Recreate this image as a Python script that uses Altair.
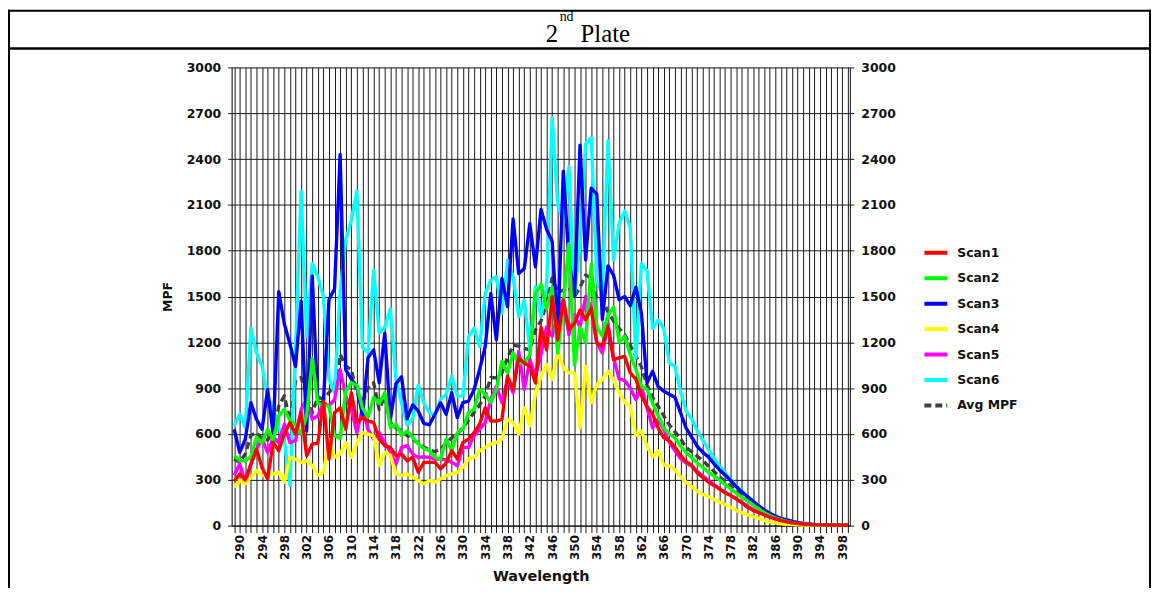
import altair as alt
import pandas as pd

wavelengths = list(range(289, 400))

scan1 = [290, 338, 300, 400, 500, 380, 306, 544, 490, 600,
         675, 600, 740, 458, 534, 540, 815, 436, 740, 772,
         631, 870, 675, 707, 685, 675, 566, 523, 512, 458,
         468, 425, 447, 349, 414, 414, 414, 371, 410, 490,
         436, 544, 566, 609, 664, 772, 685, 685, 696, 978,
         891, 1098, 1065, 1043, 935, 1300, 1150, 1499, 1217, 1477,
         1282, 1325, 1412, 1347, 1423, 1195, 1173, 1304, 1087, 1098,
         1108, 1000, 960, 850, 780, 730, 640, 575, 555, 515,
         460, 420, 395, 345, 315, 285, 262, 240, 215, 198,
         175, 150, 120, 100, 85, 72, 57, 44, 33, 25,
         18, 14, 10, 8, 6, 5, 4, 3, 3, 2,
         2]

scan2 = [458, 425, 425, 450, 580, 540, 631, 560, 720, 760,
         690, 660, 600, 720, 1095, 800, 790, 780, 590, 570,
         880, 937, 918, 770, 710, 840, 800, 870, 640, 664,
         590, 620, 577, 534, 505, 490, 447, 436, 566, 490,
         609, 631, 740, 761, 891, 859, 805, 891, 1076, 1000,
         1130, 1065, 1065, 1119, 1520, 1580, 1420, 1560, 1130, 1450,
         1846, 1050, 1300, 1200, 1710, 1300, 1240, 1380, 1430, 1200,
         1240, 1120, 1022, 913, 891, 800, 720, 640, 600, 575,
         520, 480, 445, 410, 380, 350, 325, 300, 270, 240,
         212, 185, 160, 135, 110, 85, 66, 50, 38, 28,
         20, 14, 10, 7, 5, 4, 3, 3, 2, 2,
         2]

scan3 = [631, 479, 566, 805, 696, 631, 891, 600, 1531, 1320,
         1190, 1043, 1470, 620, 1635, 800, 810, 1480, 1550, 2430,
         1020, 960, 910, 720, 1100, 1150, 935, 1260, 696, 930,
         975, 700, 790, 750, 670, 660, 730, 805, 729, 870,
         707, 805, 815, 891, 1022, 1173, 1520, 1217, 1618, 1434,
         2008, 1650, 1683, 1976, 1694, 2070, 1940, 1860, 1260, 2320,
         1740, 1500, 2490, 1740, 2210, 2170, 1350, 1700, 1640, 1480,
         1500, 1440, 1560, 1390, 935, 1010, 910, 880, 860, 840,
         740, 640, 580, 520, 480, 450, 405, 365, 330, 295,
         255, 220, 190, 160, 130, 103, 80, 62, 48, 38,
         28, 20, 14, 10, 7, 5, 4, 3, 3, 2,
         2]

scan4 = [252, 295, 273, 317, 360, 328, 338, 338, 349, 284,
         447, 436, 414, 425, 393, 328, 349, 566, 447, 468,
         544, 447, 544, 609, 599, 588, 393, 479, 460, 338,
         328, 338, 317, 295, 273, 295, 284, 306, 328, 338,
         349, 382, 436, 447, 490, 512, 534, 544, 566, 696,
         675, 599, 772, 653, 860, 980, 1054, 957, 1140, 1032,
         1000, 1000, 640, 1043, 805, 924, 957, 1011, 957, 870,
         805, 783, 590, 620, 520, 450, 490, 395, 390, 365,
         320, 284, 255, 225, 205, 190, 172, 155, 138, 120,
         100, 85, 72, 60, 48, 36, 26, 18, 13, 9,
         7, 5, 4, 3, 3, 2, 2, 2, 1, 1,
         1]

scan5 = [328, 403, 284, 403, 501, 566, 479, 577, 544, 664,
         544, 555, 761, 826, 696, 718, 805, 783, 826, 1022,
         848, 761, 609, 772, 631, 566, 609, 544, 480, 403,
         512, 523, 468, 447, 450, 447, 436, 436, 430, 414,
         392, 512, 512, 588, 631, 675, 826, 913, 805, 957,
         870, 1141, 891, 1087, 978, 1120, 1300, 1240, 1390, 1480,
         1250, 1380, 1300, 1500, 1430, 1200, 1130, 1320, 1100, 960,
         950, 900, 826, 913, 772, 640, 696, 631, 544, 490,
         440, 410, 390, 355, 325, 295, 268, 242, 218, 196,
         175, 152, 128, 106, 88, 72, 57, 44, 33, 25,
         18, 13, 10, 7, 5, 4, 3, 3, 2, 2,
         2]

scan6 = [653, 729, 640, 1293, 1130, 1043, 848, 760, 640, 560,
         265, 1150, 2190, 1240, 1716, 1630, 1500, 960, 870, 1540,
         1870, 2000, 2190, 1170, 1130, 1670, 1260, 1300, 1420, 960,
         800, 660, 700, 920, 800, 740, 720, 826, 860, 978,
         848, 848, 1238, 1293, 1173, 1520, 1607, 1629, 1390, 1737,
         1629, 1369, 1477, 1152, 1564, 1369, 1560, 2670, 2100, 1990,
         2350, 1500, 1850, 2500, 2540, 1600, 1520, 2520, 1740, 1980,
         2060, 1950, 1100, 1716, 1670, 1290, 1347, 1290, 1065, 1043,
         880, 750, 700, 620, 560, 500, 440, 390, 345, 300,
         260, 225, 190, 160, 130, 103, 80, 60, 46, 36,
         27, 20, 14, 10, 7, 5, 4, 3, 3, 2,
         2]

avg_mpf = [436, 414, 470, 590, 610, 566, 560, 610, 783, 850,
           690, 950, 970, 850, 740, 840, 830, 870, 920, 1120,
           1043, 1022, 870, 805, 902, 935, 760, 848, 675, 640,
           620, 590, 566, 540, 515, 495, 485, 500, 540, 575,
           600, 640, 690, 740, 790, 850, 970, 967, 1000, 1100,
           1180, 1175, 1160, 1150, 1280, 1340, 1450, 1620, 1530, 1540,
           1560, 1500, 1560, 1640, 1620, 1480, 1480, 1400, 1340, 1290,
           1250, 1180, 1110, 1040, 920, 840, 780, 720, 660, 615,
           570, 510, 485, 455, 425, 390, 355, 320, 290, 260,
           228, 198, 170, 142, 118, 96, 76, 58, 44, 33,
           24, 17, 12, 9, 6, 5, 4, 3, 3, 2,
           2]

series_names = ["Scan1", "Scan2", "Scan3", "Scan4", "Scan5", "Scan6", "Avg MPF"]
series_colors = ["#FF0000", "#00FF00", "#0000FF", "#FFFF00", "#FF00FF", "#00FFFF", "#404040"]
series_dashes = [[1, 0], [1, 0], [1, 0], [1, 0], [1, 0], [1, 0], [7, 4]]
series_values = [scan1, scan2, scan3, scan4, scan5, scan6, avg_mpf]

y_ticks = list(range(0, 3001, 300))

rows = []
for name, vals in zip(series_names, series_values):
    for w, v in zip(wavelengths, vals):
        rows.append({"Wavelength": w, "MPF": v, "series": name})
df = pd.DataFrame(rows)

FONT = "DejaVu Sans"
GRID = "#1a1a1a"

x_enc = alt.X(
    "Wavelength:Q",
    scale=alt.Scale(domain=[288.55, 399.36], nice=False, zero=False),
    axis=alt.Axis(
        values=wavelengths,
        labelExpr="(datum.value - 290) % 4 == 0 ? datum.value : ''",
        labelAngle=270,
        labelFont=FONT, labelFontWeight="bold", labelFontSize=12, labelColor="#111",
        labelOverlap=False, labelBound=False, labelFlush=False,
        labelPadding=2,
        tickSize=7, tickColor=GRID, tickWidth=1,
        grid=True, gridColor=GRID, gridWidth=1, gridOpacity=1,
        domainColor="#111", domainWidth=1,
        title="Wavelength", titleFont=FONT, titleFontWeight="bold",
        titleFontSize=14.5, titleColor="#111", titlePadding=10,
    ),
)

y_scale = alt.Scale(domain=[0, 3000], nice=False, zero=True)

y_left = alt.Y(
    "MPF:Q",
    scale=y_scale,
    axis=alt.Axis(
        orient="left",
        values=y_ticks, format="d",
        labelFont=FONT, labelFontWeight="bold", labelFontSize=12.5, labelColor="#111",
        labelPadding=7, tickSize=4, tickColor=GRID,
        grid=True, gridColor=GRID, gridWidth=1, gridOpacity=1,
        domainColor="#111", domainWidth=1,
        title="MPF", titleFont=FONT, titleFontWeight="bold", titleFontSize=12.5,
        titleColor="#111", titlePadding=12,
    ),
)

legend = alt.Legend(
    title=None, orient="none", legendX=695, legendY=173,
    symbolType="stroke", symbolSize=529, symbolStrokeWidth=4,
    labelFont=FONT, labelFontWeight="bold", labelFontSize=12.5, labelColor="#111",
    labelOffset=8, rowPadding=3.6, padding=0,
)

color_enc = alt.Color("series:N", scale=alt.Scale(domain=series_names, range=series_colors), legend=legend)
dash_enc = alt.StrokeDash("series:N", scale=alt.Scale(domain=series_names, range=series_dashes), legend=legend)

draw_order = ["Avg MPF", "Scan6", "Scan5", "Scan4", "Scan3", "Scan2", "Scan1"]
line_layers = []
for name in draw_order:
    line_layers.append(
        alt.Chart(df)
        .transform_filter(alt.datum.series == name)
        .mark_line(strokeWidth=3.4, strokeJoin="round")
        .encode(x=x_enc, y=y_left, color=color_enc, strokeDash=dash_enc)
    )
lines = alt.layer(*line_layers)

right_axis = (
    alt.Chart(df[df.series == "Avg MPF"])
    .mark_line(opacity=0)
    .encode(
        x=alt.X("Wavelength:Q", scale=alt.Scale(domain=[288.55, 399.36], nice=False, zero=False), axis=None),
        y=alt.Y(
            "MPF:Q", scale=y_scale,
            axis=alt.Axis(
                orient="right", values=y_ticks, format="d",
                labelFont=FONT, labelFontWeight="bold", labelFontSize=12.5, labelColor="#111",
                labelPadding=7, tickSize=4, tickColor=GRID,
                grid=False, domainColor="#111", domainWidth=1, title=None,
            ),
        ),
    )
)

one = pd.DataFrame({"k": [0]})

def hrule(x1, x2, y, w):
    return alt.Chart(one).mark_rule(color="black", strokeWidth=w).encode(
        x=alt.value(x1), x2=alt.value(x2), y=alt.value(y))

def vrule(x, y1, y2, w):
    return alt.Chart(one).mark_rule(color="black", strokeWidth=w).encode(
        x=alt.value(x), y=alt.value(y1), y2=alt.value(y2))

frame = [
    hrule(-225, 925, -57, 2),
    hrule(-225, 925, -19, 2.5),
    vrule(-224, -58, 530, 2),
    vrule(924, -58, 530, 2),
]

title_font = "Liberation Serif"
titles = [
    alt.Chart(one).mark_text(text="2", font=title_font, fontSize=25, align="left", baseline="alphabetic", color="black")
    .encode(x=alt.value(316), y=alt.value(-26)),
    alt.Chart(one).mark_text(text="nd", font=title_font, fontSize=14, align="left", baseline="alphabetic", color="black")
    .encode(x=alt.value(330), y=alt.value(-47)),
    alt.Chart(one).mark_text(text="Plate", font=title_font, fontSize=25, align="left", baseline="alphabetic", color="black")
    .encode(x=alt.value(351), y=alt.value(-26)),
]

chart = (
    alt.layer(lines, right_axis, *frame, *titles)
    .resolve_axis(x="independent", y="independent")
    .properties(
        width=622, height=461,
        autosize=alt.AutoSizeParams(type="none"),
        padding={"left": 225, "top": 58, "right": 305, "bottom": 61},
    )
    .configure_view(stroke=None)
    .configure(background="white")
)

chart.save("out.html", embed_options={"renderer": "svg", "actions": False})
